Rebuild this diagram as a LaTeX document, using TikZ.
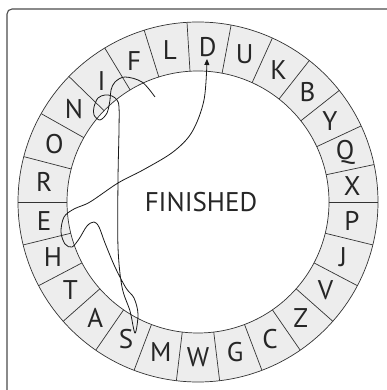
\documentclass[tikz,border=0pt]{standalone}
\usepackage{fontspec}
\setmainfont{PT Sans}
\usetikzlibrary{arrows.meta}

\begin{document}
\begin{tikzpicture}[x=1pt,y=1pt,
        ltr/.style={font=\fontsize{27}{30}\selectfont, text=black!85},
        rim/.style={draw=black!80, line width=0.7pt}]
    \useasboundingbox (-198,-188) rectangle (189,202);
    \clip (-198,-188) rectangle (189,202);
    % frame
    \draw[rounded corners=5, black!70, line width=1.1pt] (-191,193) rectangle (250,-250);
    % ring
    \fill[black!7, even odd rule] (0,0) circle (180) (0,0) circle (131);
    \draw[rim] (0,0) circle (180);
    \draw[rim] (0,0) circle (131);
    \foreach \l/\a/\b in {X/0/12, Q/12/25, Y/25/38.3, B/38.3/51.8, K/51.8/65.6,
            U/65.6/79.4, D/79.4/93.5, L/93.5/107.4, F/107.4/121.2, I/121.2/135.8,
            N/135.8/150.6, O/150.6/165.4, R/165.4/180, E/180/193.8, H/193.8/207.7,
            T/207.7/221.5, A/221.5/235.4, S/235.4/249.2, M/249.2/263.1, W/263.1/276.9,
            G/276.9/290.8, C/290.8/304.6, Z/304.6/318.5, V/318.5/332.3, J/332.3/346.2,
            P/346.2/360}{
        \draw[rim] (\a:131) -- (\a:180);
        \node[ltr] (\l) at ({(\a+\b)/2}:155) {\l};
    }
    \node[ltr] (finished) at (3,0) {FINISHED};
    % the route
    \coordinate (start) at (-43,105);
    \coordinate (arrowtip) at (9,143);
    \draw[black!90, line width=0.8pt, -{Triangle[width=5pt,length=6pt]}]
        plot[smooth, tension=0.55] coordinates {(start) (-56,120) (-73,125) (-83,120)
        (-87,112) (-88,102) (-91,89) (-98,82) (-104,87) (-104,95) (-100,104) (-93,107)
        (-86,106) (-81,102) (-79,95) (-79,72) (-80,22) (-80,-45) (-76,-85) (-68,-109)
        (-63,-131) (-60,-112) (-64,-96) (-72,-86) (-83,-65) (-93,-41) (-99,-25)
        (-104,-20) (-111,-24) (-119,-37) (-126,-45) (-133,-42) (-137,-30) (-134,-15)
        (-124,-7) (-108,0) (-80,19) (-55,32) (-25,50) (-6,70) (6,102) (arrowtip)};
\end{tikzpicture}
\end{document}
